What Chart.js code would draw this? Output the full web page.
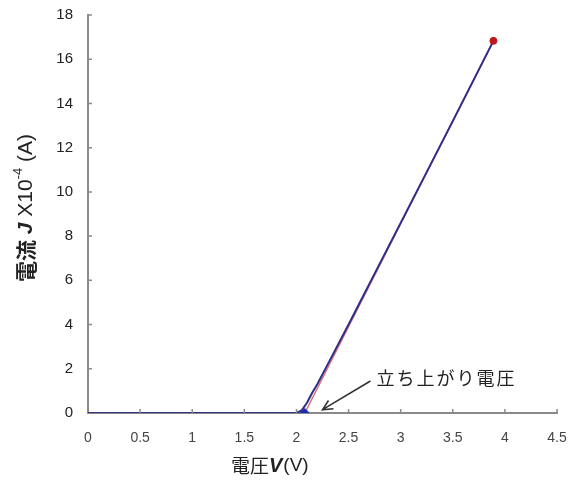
<!DOCTYPE html>
<html>
<head>
<meta charset="utf-8">
<script src="https://cdn.jsdelivr.net/npm/chart.js@4.4.1/dist/chart.umd.min.js"></script>
<style>
  html, body { margin: 0; padding: 0; background: #fff; }
  #wrap { width: 580px; height: 480px; position: relative; }
</style>
</head>
<body>
<div id="wrap"><canvas id="c" width="580" height="480"></canvas></div>
<script>
// Measured I-V characteristic (voltage in V, current in 1e-4 A)
const voltage = [0, 0.5, 1.0, 1.5, 2.0, 2.05, 2.1, 2.15, 2.2, 2.3, 2.5, 3.0, 3.5, 3.89];
const current = [0, 0, 0, 0, 0, 0.12, 0.45, 0.9, 1.3, 2.2, 4.0, 8.6, 13.2, 16.83];

// Linear extrapolation of the steep part down to the axis
const fitVoltage = [2.08, 3.89];
const fitCurrent = [0, 16.83];

// Threshold ("turn-on") voltage marker and end point
const thresholdPoint = [2.08, 0];
const endPoint = [3.89, 16.83];

const xTicks = [0, 0.5, 1, 1.5, 2, 2.5, 3, 3.5, 4, 4.5];
const yTicks = [0, 2, 4, 6, 8, 10, 12, 14, 16, 18];

const toXY = (xs, ys) => xs.map((x, i) => ({ x: x, y: ys[i] }));

const FONT = '"Liberation Sans", Arial, sans-serif';
const CJK = '"Noto Sans CJK JP", sans-serif';

// Small inward tick marks and the text decorations
const decor = {
  id: 'decor',
  afterDraw(chart) {
    const ctx = chart.ctx;
    const xs = chart.scales.x, ys = chart.scales.y;
    const x0 = xs.getPixelForValue(0), y0 = ys.getPixelForValue(0);
    ctx.save();
    ctx.strokeStyle = '#8a8a8a';
    ctx.lineWidth = 1.5;
    ctx.beginPath();
    xTicks.forEach(v => {
      if (v === 0) return;
      const px = xs.getPixelForValue(v);
      ctx.moveTo(px, y0); ctx.lineTo(px, y0 - 4);
    });
    yTicks.forEach(v => {
      if (v === 0) return;
      const py = ys.getPixelForValue(v);
      ctx.moveTo(x0, py); ctx.lineTo(x0 + 4, py);
    });
    ctx.stroke();

    // Annotation arrow
    const ax = xs.getPixelForValue(2.25), ay = ys.getPixelForValue(0.15);
    const bx = xs.getPixelForValue(2.71), by = ys.getPixelForValue(1.45);
    ctx.strokeStyle = '#333';
    ctx.lineWidth = 1.6;
    ctx.beginPath();
    ctx.moveTo(bx, by); ctx.lineTo(ax, ay);
    const ang = Math.atan2(by - ay, bx - ax);
    const hl = 11, hw = 0.45;
    ctx.moveTo(ax + hl * Math.cos(ang - hw), ay + hl * Math.sin(ang - hw));
    ctx.lineTo(ax, ay);
    ctx.lineTo(ax + hl * Math.cos(ang + hw), ay + hl * Math.sin(ang + hw));
    ctx.stroke();

    ctx.fillStyle = '#222';
    ctx.font = '18px ' + CJK;
    ctx.textBaseline = 'middle';
    ctx.textAlign = 'left';
    let lx = bx + 6;
    for (const ch of '立ち上がり電圧') {
      ctx.fillText(ch, lx, by - 3);
      lx += ctx.measureText(ch).width + 2;
    }

    // X axis title: 電圧V(V)
    ctx.fillStyle = '#222';
    let tx = 231, ty = 466;
    ctx.font = '19px ' + CJK;
    ctx.fillText('電圧', tx, ty);
    tx += ctx.measureText('電圧').width;
    ctx.font = 'italic bold 20px ' + FONT;
    ctx.fillText('V', tx, ty);
    tx += ctx.measureText('V').width + 1;
    ctx.font = '19px ' + FONT;
    ctx.fillText('(V)', tx, ty);

    // Y axis title: 電流 J X10^-4 (A)
    ctx.save();
    ctx.translate(26, 208);
    ctx.rotate(-Math.PI / 2);
    const parts = [
      ['電流', 'bold 21px ' + CJK, 0],
      [' ', '21px ' + FONT, 0],
      ['J', 'italic bold 21px ' + FONT, 0],
      [' X10', '21px ' + FONT, 0],
      ['-4', '13px ' + FONT, -8],
      [' (A)', '21px ' + FONT, 0]
    ];
    let total = 0;
    parts.forEach(p => { ctx.font = p[1]; total += ctx.measureText(p[0]).width; });
    let px = -total / 2;
    ctx.textAlign = 'left';
    parts.forEach(p => {
      ctx.font = p[1];
      ctx.fillText(p[0], px, p[2]);
      px += ctx.measureText(p[0]).width;
    });
    ctx.restore();
    ctx.restore();
  }
};

new Chart(document.getElementById('c'), {
  type: 'scatter',
  data: {
    datasets: [
      {
        data: toXY(fitVoltage, fitCurrent),
        showLine: true,
        borderColor: '#d9707a',
        borderWidth: 1.5,
        pointRadius: 0,
        order: 3
      },
      {
        data: toXY(voltage, current),
        showLine: true,
        borderColor: '#2e2f86',
        borderWidth: 2,
        pointRadius: 0,
        tension: 0,
        order: 2
      },
      {
        data: [{ x: thresholdPoint[0], y: thresholdPoint[1] }],
        pointStyle: 'rectRot',
        pointRadius: 4.5,
        backgroundColor: '#1a2bb8',
        borderColor: '#1a2bb8',
        order: 1
      },
      {
        data: [{ x: endPoint[0], y: endPoint[1] }],
        pointStyle: 'circle',
        pointRadius: 3.5,
        backgroundColor: '#c0161b',
        borderColor: '#c0161b',
        order: 1
      }
    ]
  },
  options: {
    responsive: false,
    animation: false,
    layout: { padding: { left: 40, right: 23, top: 15, bottom: 0 } },
    plugins: { legend: { display: false }, tooltip: { enabled: false } },
    scales: {
      x: {
        type: 'linear',
        min: 0, max: 4.5,
        afterBuildTicks: s => { s.ticks = xTicks.map(v => ({ value: v })); },
        afterFit: s => { s.height = 67; s.paddingLeft = 0; s.paddingRight = 0; },
        grid: { display: false, drawTicks: false },
        border: { display: true, color: '#8a8a8a', width: 2 },
        ticks: {
          color: '#444', font: { family: FONT, size: 14 }, padding: 17, maxRotation: 0,
          callback: v => String(v)
        }
      },
      y: {
        type: 'linear',
        min: 0, max: 18,
        afterBuildTicks: s => { s.ticks = yTicks.map(v => ({ value: v })); },
        afterFit: s => { s.width = 48; s.paddingTop = 0; s.paddingBottom = 0; },
        grid: { display: false, drawTicks: false },
        border: { display: true, color: '#8a8a8a', width: 2 },
        ticks: { color: '#222', font: { family: FONT, size: 15 }, padding: 15 }
      }
    }
  },
  plugins: [decor]
});
</script>
</body>
</html>
